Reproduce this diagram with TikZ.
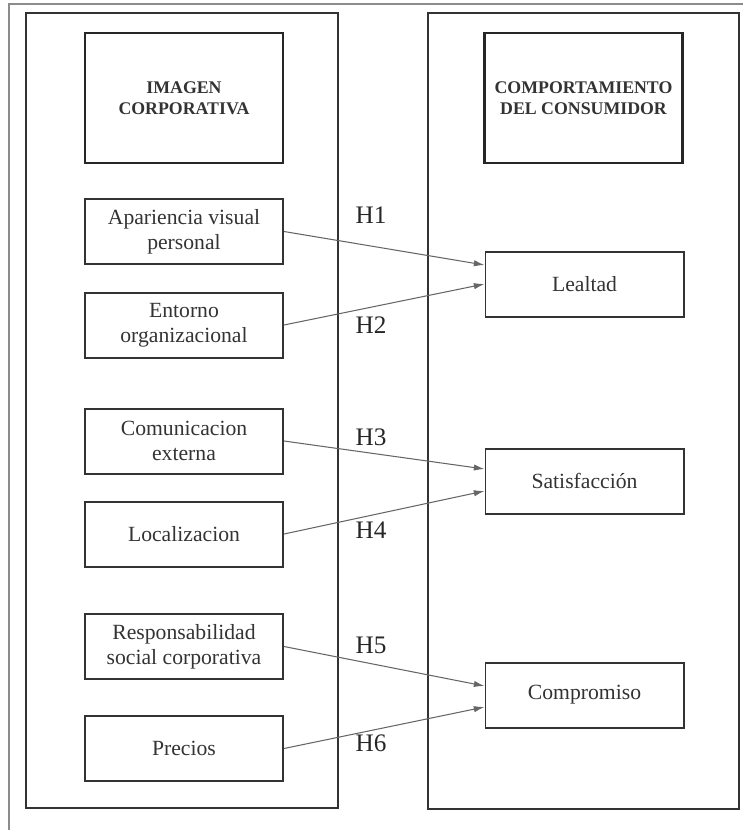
\documentclass[tikz,border=0pt]{standalone}
\usepackage{fontspec}
\setmainfont{Liberation Serif}
\usepackage{tikz}
\usetikzlibrary{arrows.meta}

\begin{document}
\begin{tikzpicture}[x=0.03cm, y=-0.03cm,
  frame/.style={draw=black!45, line width=1.2pt},
  panel/.style={draw=black!80, line width=1.6pt},
  headbox/.style={draw=black!85, line width=2.4pt, minimum width=5.94cm, minimum height=3.9cm, align=center, text=black!80, font=\fontsize{15.2}{17.9}\selectfont\bfseries},
  itembox/.style={draw=black!80, line width=1.7pt, minimum width=5.94cm, minimum height=1.95cm, align=center, text=black!80, font=\fontsize{18.5}{21.3}\selectfont},
  hyp/.style={text=black!85, font=\fontsize{21.5}{24}\selectfont},
  link/.style={draw=black!60, line width=0.9pt, -{Latex[length=3.2mm,width=1.9mm]}}]

\useasboundingbox (0,0) rectangle (743,830);

% screenshot frame
\draw[frame] (9,830) -- (9,4) -- (743,4);

% two panels
\draw[panel] (26,13) rectangle (338,808);
\draw[panel] (428,13) rectangle (739,809);

% headers
\node[headbox] (imagen) at (184,98) {IMAGEN\\CORPORATIVA};
\node[headbox] (comport) at (583.5,98) {COMPORTAMIENTO\\DEL CONSUMIDOR};

% input boxes
\node[itembox] (apar) at (184,231.5) {Apariencia visual\\personal};
\node[itembox] (ento) at (184,325) {Entorno\\organizacional};
\node[itembox] (comu) at (184,441) {Comunicacion\\externa};
\node[itembox] (loca) at (184,534) {Localizacion};
\node[itembox] (resp) at (184,646.5) {Responsabilidad\\social corporativa};
\node[itembox] (prec) at (184,748.5) {Precios};

% output boxes
\node[itembox] (leal) at (584.5,284) {Lealtad};
\node[itembox] (satis) at (584.5,481) {Satisfacción};
\node[itembox] (compr) at (584.5,695) {Compromiso};

% hypotheses
\node[hyp] (h1) at (371,215) {H1};
\node[hyp] (h2) at (371,325) {H2};
\node[hyp] (h3) at (371,437) {H3};
\node[hyp] (h4) at (371,530) {H4};
\node[hyp] (h5) at (371,645) {H5};
\node[hyp] (h6) at (371,743) {H6};

% arrows
\draw[link] (apar.east) -- ([yshift=0.57cm]leal.west);
\draw[link] (ento.east) -- (leal.west);
\draw[link] (comu.east) -- ([yshift=0.36cm]satis.west);
\draw[link] (loca.east) -- ([yshift=-0.3cm]satis.west);
\draw[link] (resp.east) -- ([yshift=0.27cm]compr.west);
\draw[link] (prec.east) -- ([yshift=-0.36cm]compr.west);

\end{tikzpicture}
\end{document}
